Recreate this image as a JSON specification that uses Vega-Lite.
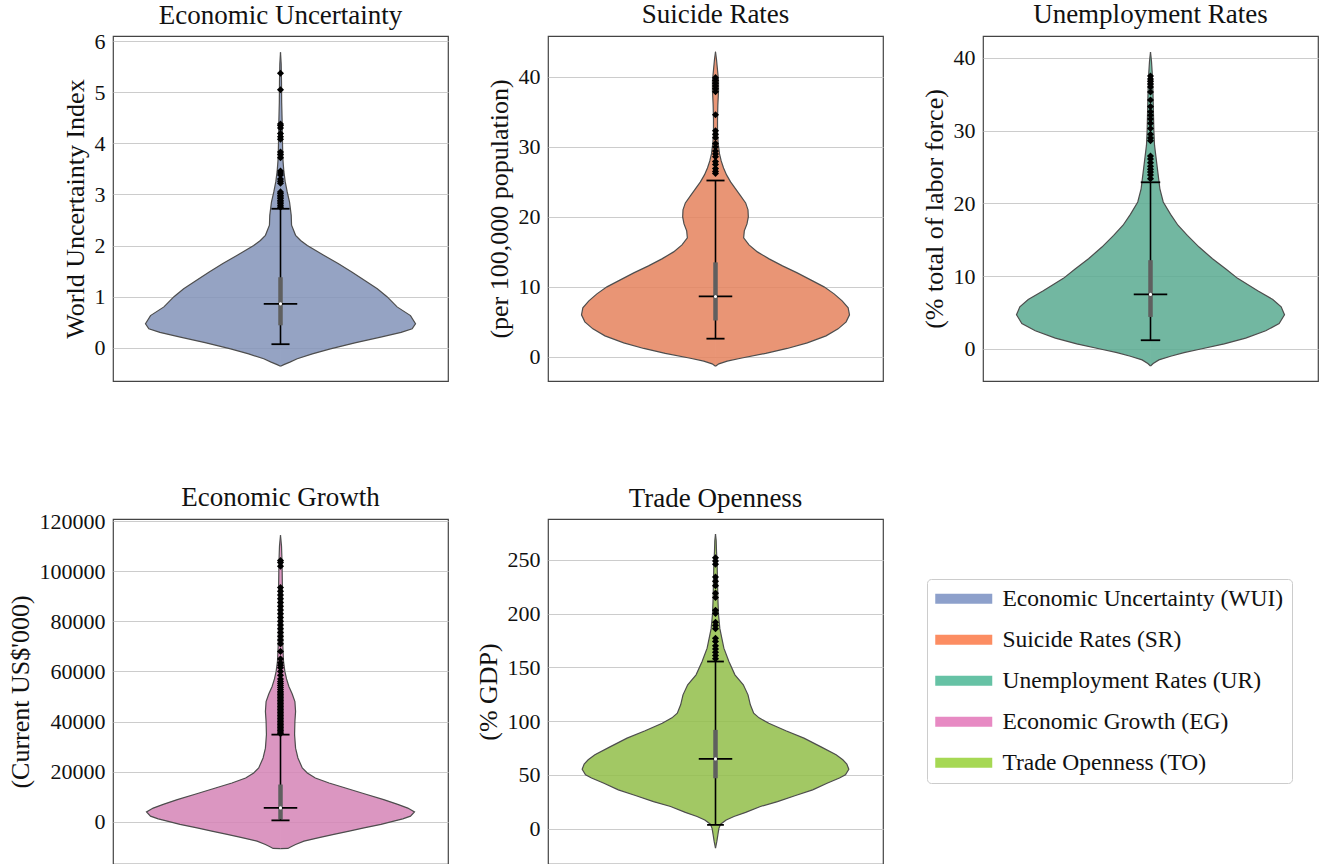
{
"$schema": "https://vega.github.io/schema/vega-lite/v6.json",
"padding": {"left": 6, "top": 0, "right": 0, "bottom": 0},
"background": "white",
"config": {
  "font": "Liberation Serif",
  "view": {"stroke": "#444444", "strokeWidth": 1.2},
  "axisY": {"grid": true, "gridColor": "#cccccc", "gridWidth": 1, "domain": false, "ticks": false, "labelFontSize": 22, "labelColor": "#111111", "labelPadding": 8, "titleFontSize": 26, "titleFontWeight": "normal", "titleColor": "#111111", "titlePadding": 6},
  "title": {"fontSize": 27, "fontWeight": "normal", "color": "#111111", "frame": "group", "baseline": "alphabetic"}
},
"datasets": {
  "v1": [{"value":-0.36,"density":0},{"value":-0.33,"density":0.01},{"value":-0.28,"density":0.028},{"value":-0.215,"density":0.05},{"value":-0.12,"density":0.095},{"value":-0.02,"density":0.149},{"value":0.1,"density":0.225},{"value":0.21,"density":0.299},{"value":0.3,"density":0.36},{"value":0.37,"density":0.393},{"value":0.47,"density":0.403},{"value":0.63,"density":0.388},{"value":0.8,"density":0.348},{"value":1.0,"density":0.318},{"value":1.155,"density":0.289},{"value":1.3,"density":0.255},{"value":1.48,"density":0.214},{"value":1.65,"density":0.172},{"value":1.81,"density":0.129},{"value":2.0,"density":0.08},{"value":2.1,"density":0.06},{"value":2.2,"density":0.045},{"value":2.4,"density":0.033},{"value":2.59,"density":0.032},{"value":2.85,"density":0.027},{"value":3.05,"density":0.02},{"value":3.25,"density":0.014},{"value":3.45,"density":0.01},{"value":3.7,"density":0.007},{"value":4.0,"density":0.006},{"value":4.4,"density":0.005},{"value":4.8,"density":0.0035},{"value":5.2,"density":0.003},{"value":5.55,"density":0.002},{"value":5.78,"density":0}],
  "v2": [{"value":-1.33,"density":0},{"value":-1.0,"density":0.01},{"value":-0.6,"density":0.035},{"value":-0.2,"density":0.075},{"value":0.5,"density":0.15},{"value":1.2,"density":0.214},{"value":2.0,"density":0.274},{"value":3.0,"density":0.33},{"value":4.0,"density":0.366},{"value":5.0,"density":0.39},{"value":6.0,"density":0.4},{"value":7.0,"density":0.396},{"value":8.0,"density":0.378},{"value":9.0,"density":0.354},{"value":10.0,"density":0.324},{"value":11.0,"density":0.284},{"value":12.0,"density":0.244},{"value":13.0,"density":0.2},{"value":14.0,"density":0.16},{"value":15.0,"density":0.125},{"value":16.0,"density":0.1},{"value":17.0,"density":0.084},{"value":18.0,"density":0.086},{"value":19.0,"density":0.094},{"value":20.0,"density":0.098},{"value":21.0,"density":0.097},{"value":22.0,"density":0.09},{"value":23.0,"density":0.075},{"value":24.0,"density":0.06},{"value":25.0,"density":0.045},{"value":26.0,"density":0.033},{"value":27.0,"density":0.024},{"value":28.0,"density":0.017},{"value":29.0,"density":0.012},{"value":30.5,"density":0.008},{"value":32.0,"density":0.006},{"value":34.0,"density":0.006},{"value":36.0,"density":0.007},{"value":38.0,"density":0.009},{"value":39.5,"density":0.009},{"value":41.0,"density":0.006},{"value":42.5,"density":0.003},{"value":43.6,"density":0}],
  "v3": [{"value":-2.34,"density":0},{"value":-2.0,"density":0.008},{"value":-1.5,"density":0.025},{"value":-1.0,"density":0.06},{"value":-0.5,"density":0.1},{"value":0.0,"density":0.15},{"value":0.7,"density":0.22},{"value":1.5,"density":0.284},{"value":2.5,"density":0.344},{"value":3.5,"density":0.384},{"value":4.7,"density":0.4},{"value":5.8,"density":0.39},{"value":6.8,"density":0.365},{"value":8.0,"density":0.32},{"value":9.7,"density":0.26},{"value":11.0,"density":0.225},{"value":12.4,"density":0.185},{"value":14.0,"density":0.145},{"value":15.6,"density":0.11},{"value":17.0,"density":0.082},{"value":18.5,"density":0.06},{"value":20.2,"density":0.038},{"value":22.0,"density":0.028},{"value":23.5,"density":0.024},{"value":25.0,"density":0.02},{"value":26.5,"density":0.016},{"value":28.0,"density":0.012},{"value":30.0,"density":0.01},{"value":32.0,"density":0.009},{"value":34.0,"density":0.008},{"value":36.0,"density":0.007},{"value":38.0,"density":0.005},{"value":39.5,"density":0.003},{"value":40.8,"density":0}],
  "v4": [{"value":-10700,"density":0},{"value":-10600,"density":0.022},{"value":-10000,"density":0.03},{"value":-9000,"density":0.045},{"value":-7700,"density":0.07},{"value":-6300,"density":0.115},{"value":-5000,"density":0.159},{"value":-3700,"density":0.205},{"value":-2400,"density":0.249},{"value":-1000,"density":0.3},{"value":280,"density":0.338},{"value":1200,"density":0.365},{"value":2270,"density":0.388},{"value":3980,"density":0.4},{"value":5500,"density":0.38},{"value":7000,"density":0.35},{"value":8900,"density":0.308},{"value":11200,"density":0.25},{"value":13500,"density":0.194},{"value":15500,"density":0.145},{"value":17500,"density":0.104},{"value":19500,"density":0.08},{"value":21500,"density":0.065},{"value":25500,"density":0.052},{"value":29400,"density":0.045},{"value":34800,"density":0.042},{"value":40000,"density":0.043},{"value":44000,"density":0.045},{"value":48000,"density":0.043},{"value":51000,"density":0.035},{"value":54000,"density":0.025},{"value":57000,"density":0.018},{"value":60000,"density":0.013},{"value":64000,"density":0.009},{"value":70000,"density":0.007},{"value":80000,"density":0.006},{"value":90000,"density":0.006},{"value":100000,"density":0.005},{"value":106000,"density":0.004},{"value":110000,"density":0.003},{"value":114300,"density":0}],
  "v5": [{"value":-18.3,"density":0},{"value":-12,"density":0.004},{"value":-6,"density":0.007},{"value":0,"density":0.01},{"value":4,"density":0.015},{"value":8,"density":0.032},{"value":11.2,"density":0.055},{"value":15,"density":0.09},{"value":20.5,"density":0.134},{"value":25,"density":0.185},{"value":30.7,"density":0.239},{"value":36,"density":0.29},{"value":42.2,"density":0.333},{"value":47,"density":0.37},{"value":50,"density":0.388},{"value":55.2,"density":0.398},{"value":60,"density":0.392},{"value":64,"density":0.38},{"value":68.6,"density":0.36},{"value":76,"density":0.315},{"value":84.1,"density":0.264},{"value":91,"density":0.21},{"value":98,"density":0.159},{"value":103,"density":0.13},{"value":107.3,"density":0.114},{"value":115.1,"density":0.104},{"value":124.4,"density":0.097},{"value":133.7,"density":0.083},{"value":143,"density":0.058},{"value":155.4,"density":0.04},{"value":167.8,"density":0.025},{"value":177,"density":0.019},{"value":186,"density":0.013},{"value":199,"density":0.009},{"value":215,"density":0.007},{"value":230,"density":0.006},{"value":245,"density":0.005},{"value":258,"density":0.003},{"value":268,"density":0.002},{"value":274,"density":0}],
  "s1": [{"lo":0.07,"q1":0.44,"med":0.86,"q3":1.38,"hi":2.72}],
  "s2": [{"lo":2.6,"q1":5.2,"med":8.63,"q3":13.5,"hi":25.2}],
  "s3": [{"lo":1.2,"q1":4.4,"med":7.5,"q3":12.2,"hi":22.9}],
  "s4": [{"lo":600,"q1":1000,"med":5570,"q3":14900,"hi":34800}],
  "s5": [{"lo":3.4,"q1":46.8,"med":64.8,"q3":91.8,"hi":155.4}],
  "o1": [{"value":2.75},{"value":2.78},{"value":2.82},{"value":2.85},{"value":2.88},{"value":2.92},{"value":2.95},{"value":2.98},{"value":3.02},{"value":3.05},{"value":3.22},{"value":3.26},{"value":3.3},{"value":3.38},{"value":3.42},{"value":3.46},{"value":3.72},{"value":3.78},{"value":3.83},{"value":4.08},{"value":4.13},{"value":4.19},{"value":4.3},{"value":4.35},{"value":4.38},{"value":5.05},{"value":5.37}],
  "o2": [{"value":26.2},{"value":26.5},{"value":26.9},{"value":27.5},{"value":27.9},{"value":28.6},{"value":29.0},{"value":29.4},{"value":30.0},{"value":30.5},{"value":31.3},{"value":31.8},{"value":32.3},{"value":34.6},{"value":37.9},{"value":38.3},{"value":38.7},{"value":39.1},{"value":39.5},{"value":39.9}],
  "o3": [{"value":23.4},{"value":23.9},{"value":24.3},{"value":24.7},{"value":25.1},{"value":25.6},{"value":26.1},{"value":26.5},{"value":28.6},{"value":29.0},{"value":29.5},{"value":30.3},{"value":31.0},{"value":31.6},{"value":32.1},{"value":32.6},{"value":33.3},{"value":34.2},{"value":35.3},{"value":36.0},{"value":36.4},{"value":36.8},{"value":37.1},{"value":37.5}],
  "o4": [{"value":35200},{"value":35800},{"value":36400},{"value":37000},{"value":37600},{"value":38200},{"value":38800},{"value":39400},{"value":40000},{"value":40600},{"value":41200},{"value":41800},{"value":42400},{"value":43000},{"value":43600},{"value":44200},{"value":44800},{"value":45400},{"value":46000},{"value":46600},{"value":47200},{"value":47800},{"value":48400},{"value":49000},{"value":49600},{"value":50200},{"value":50800},{"value":51400},{"value":52000},{"value":52800},{"value":53600},{"value":54400},{"value":55200},{"value":56000},{"value":57000},{"value":58500},{"value":60000},{"value":61500},{"value":62500},{"value":63500},{"value":65000},{"value":68000},{"value":71000},{"value":72500},{"value":74000},{"value":75500},{"value":77000},{"value":78500},{"value":80000},{"value":81500},{"value":83000},{"value":84500},{"value":86000},{"value":87500},{"value":89000},{"value":90500},{"value":92000},{"value":93500},{"value":102000},{"value":103500},{"value":104200}],
  "o5": [{"value":158},{"value":161},{"value":164},{"value":167},{"value":170},{"value":174},{"value":177},{"value":186},{"value":189},{"value":192},{"value":200},{"value":203},{"value":215},{"value":219},{"value":226},{"value":230},{"value":234},{"value":246},{"value":249},{"value":252}],
  "leg": [{"name":"Economic Uncertainty (WUI)"},{"name":"Suicide Rates (SR)"},{"name":"Unemployment Rates (UR)"},{"name":"Economic Growth (EG)"},{"name":"Trade Openness (TO)"}]
},
"columns": 3,
"spacing": {"row": 138, "column": 100},
"bounds": "flush",
"resolve": {"scale": {"color": "independent"}, "legend": {"color": "independent"}},
"concat": [
{
 "title": {"text": "Economic Uncertainty", "offset": 0},
 "width": 335, "height": 345,
 "resolve": {"scale": {"x": "independent"}},
 "layer": [
  {"data": {"name": "v1"}, "mark": {"type": "area", "orient": "horizontal", "color": "#8293b8", "fillOpacity": 0.85},
   "encoding": {"y": {"field": "value", "type": "quantitative", "title": "World Uncertainty Index", "scale": {"domain": [-0.65, 6.1], "nice": false, "zero": false}, "axis": {"values": [0,1,2,3,4,5,6]}},
     "x": {"field": "density", "type": "quantitative", "scale": {"domain": [-0.5, 0.5], "reverse": true}, "axis": null}, "x2": {"datum": -0.001}}},
  {"data": {"name": "v1"}, "mark": {"type": "area", "orient": "horizontal", "color": "#8293b8", "fillOpacity": 0.85},
   "encoding": {"y": {"field": "value", "type": "quantitative", "title": "World Uncertainty Index"},
     "x": {"field": "density", "type": "quantitative", "scale": {"domain": [-0.5, 0.5]}, "axis": null}, "x2": {"datum": 0}}},
  {"data": {"name": "v1"}, "mark": {"type": "line", "color": "#4d4d4d", "strokeWidth": 1.2},
   "encoding": {"y": {"field": "value", "type": "quantitative", "title": "World Uncertainty Index"},
     "x": {"field": "density", "type": "quantitative", "scale": {"domain": [-0.5, 0.5], "reverse": true}, "axis": null}, "order": {"field": "value", "type": "quantitative"}}},
  {"data": {"name": "v1"}, "mark": {"type": "line", "color": "#4d4d4d", "strokeWidth": 1.2},
   "encoding": {"y": {"field": "value", "type": "quantitative", "title": "World Uncertainty Index"},
     "x": {"field": "density", "type": "quantitative", "scale": {"domain": [-0.5, 0.5]}, "axis": null}, "order": {"field": "value", "type": "quantitative"}}},
  {"data": {"name": "s1"}, "mark": {"type": "rule", "color": "black", "strokeWidth": 1.6},
   "encoding": {"y": {"field": "lo", "type": "quantitative", "title": "World Uncertainty Index"}, "y2": {"field": "hi"}, "x": {"datum": 0, "type": "quantitative", "scale": {"domain": [-0.5, 0.5]}, "axis": null}}},
  {"data": {"name": "s1"}, "mark": {"type": "rule", "color": "#5f5f5f", "strokeWidth": 4.5},
   "encoding": {"y": {"field": "q1", "type": "quantitative", "title": "World Uncertainty Index"}, "y2": {"field": "q3"}, "x": {"datum": 0, "type": "quantitative", "scale": {"domain": [-0.5, 0.5]}, "axis": null}}},
  {"data": {"name": "s1"}, "mark": {"type": "rule", "color": "black", "strokeWidth": 1.8},
   "encoding": {"y": {"field": "lo", "type": "quantitative", "title": "World Uncertainty Index"}, "x": {"datum": -0.027, "type": "quantitative", "scale": {"domain": [-0.5, 0.5]}, "axis": null}, "x2": {"datum": 0.027}}},
  {"data": {"name": "s1"}, "mark": {"type": "rule", "color": "black", "strokeWidth": 1.8},
   "encoding": {"y": {"field": "hi", "type": "quantitative", "title": "World Uncertainty Index"}, "x": {"datum": -0.027, "type": "quantitative", "scale": {"domain": [-0.5, 0.5]}, "axis": null}, "x2": {"datum": 0.027}}},
  {"data": {"name": "s1"}, "mark": {"type": "rule", "color": "black", "strokeWidth": 1.8},
   "encoding": {"y": {"field": "med", "type": "quantitative", "title": "World Uncertainty Index"}, "x": {"datum": -0.05, "type": "quantitative", "scale": {"domain": [-0.5, 0.5]}, "axis": null}, "x2": {"datum": 0.05}}},
  {"data": {"name": "s1"}, "mark": {"type": "point", "filled": true, "color": "white", "size": 10, "opacity": 1},
   "encoding": {"y": {"field": "med", "type": "quantitative", "title": "World Uncertainty Index"}, "x": {"datum": 0, "type": "quantitative", "scale": {"domain": [-0.5, 0.5]}, "axis": null}}},
  {"data": {"name": "o1"}, "mark": {"type": "point", "shape": "diamond", "filled": true, "color": "black", "size": 50, "opacity": 1},
   "encoding": {"y": {"field": "value", "type": "quantitative", "title": "World Uncertainty Index"}, "x": {"datum": 0, "type": "quantitative", "scale": {"domain": [-0.5, 0.5]}, "axis": null}}}
 ]
},
{
 "title": {"text": "Suicide Rates", "offset": 7},
 "width": 335, "height": 345,
 "resolve": {"scale": {"x": "independent"}},
 "layer": [
  {"data": {"name": "v2"}, "mark": {"type": "area", "orient": "horizontal", "color": "#e5825d", "fillOpacity": 0.85},
   "encoding": {"y": {"field": "value", "type": "quantitative", "title": "(per 100,000 population)", "scale": {"domain": [-3.45, 45.85], "nice": false, "zero": false}, "axis": {"values": [0,10,20,30,40]}},
     "x": {"field": "density", "type": "quantitative", "scale": {"domain": [-0.5, 0.5], "reverse": true}, "axis": null}, "x2": {"datum": -0.001}}},
  {"data": {"name": "v2"}, "mark": {"type": "area", "orient": "horizontal", "color": "#e5825d", "fillOpacity": 0.85},
   "encoding": {"y": {"field": "value", "type": "quantitative", "title": "(per 100,000 population)"},
     "x": {"field": "density", "type": "quantitative", "scale": {"domain": [-0.5, 0.5]}, "axis": null}, "x2": {"datum": 0}}},
  {"data": {"name": "v2"}, "mark": {"type": "line", "color": "#4d4d4d", "strokeWidth": 1.2},
   "encoding": {"y": {"field": "value", "type": "quantitative", "title": "(per 100,000 population)"},
     "x": {"field": "density", "type": "quantitative", "scale": {"domain": [-0.5, 0.5], "reverse": true}, "axis": null}, "order": {"field": "value", "type": "quantitative"}}},
  {"data": {"name": "v2"}, "mark": {"type": "line", "color": "#4d4d4d", "strokeWidth": 1.2},
   "encoding": {"y": {"field": "value", "type": "quantitative", "title": "(per 100,000 population)"},
     "x": {"field": "density", "type": "quantitative", "scale": {"domain": [-0.5, 0.5]}, "axis": null}, "order": {"field": "value", "type": "quantitative"}}},
  {"data": {"name": "s2"}, "mark": {"type": "rule", "color": "black", "strokeWidth": 1.6},
   "encoding": {"y": {"field": "lo", "type": "quantitative", "title": "(per 100,000 population)"}, "y2": {"field": "hi"}, "x": {"datum": 0, "type": "quantitative", "scale": {"domain": [-0.5, 0.5]}, "axis": null}}},
  {"data": {"name": "s2"}, "mark": {"type": "rule", "color": "#5f5f5f", "strokeWidth": 4.5},
   "encoding": {"y": {"field": "q1", "type": "quantitative", "title": "(per 100,000 population)"}, "y2": {"field": "q3"}, "x": {"datum": 0, "type": "quantitative", "scale": {"domain": [-0.5, 0.5]}, "axis": null}}},
  {"data": {"name": "s2"}, "mark": {"type": "rule", "color": "black", "strokeWidth": 1.8},
   "encoding": {"y": {"field": "lo", "type": "quantitative", "title": "(per 100,000 population)"}, "x": {"datum": -0.027, "type": "quantitative", "scale": {"domain": [-0.5, 0.5]}, "axis": null}, "x2": {"datum": 0.027}}},
  {"data": {"name": "s2"}, "mark": {"type": "rule", "color": "black", "strokeWidth": 1.8},
   "encoding": {"y": {"field": "hi", "type": "quantitative", "title": "(per 100,000 population)"}, "x": {"datum": -0.027, "type": "quantitative", "scale": {"domain": [-0.5, 0.5]}, "axis": null}, "x2": {"datum": 0.027}}},
  {"data": {"name": "s2"}, "mark": {"type": "rule", "color": "black", "strokeWidth": 1.8},
   "encoding": {"y": {"field": "med", "type": "quantitative", "title": "(per 100,000 population)"}, "x": {"datum": -0.05, "type": "quantitative", "scale": {"domain": [-0.5, 0.5]}, "axis": null}, "x2": {"datum": 0.05}}},
  {"data": {"name": "s2"}, "mark": {"type": "point", "filled": true, "color": "white", "size": 10, "opacity": 1},
   "encoding": {"y": {"field": "med", "type": "quantitative", "title": "(per 100,000 population)"}, "x": {"datum": 0, "type": "quantitative", "scale": {"domain": [-0.5, 0.5]}, "axis": null}}},
  {"data": {"name": "o2"}, "mark": {"type": "point", "shape": "diamond", "filled": true, "color": "black", "size": 50, "opacity": 1},
   "encoding": {"y": {"field": "value", "type": "quantitative", "title": "(per 100,000 population)"}, "x": {"datum": 0, "type": "quantitative", "scale": {"domain": [-0.5, 0.5]}, "axis": null}}}
 ]
},
{
 "title": {"text": "Unemployment Rates", "offset": 7},
 "width": 335, "height": 345,
 "resolve": {"scale": {"x": "independent"}},
 "layer": [
  {"data": {"name": "v3"}, "mark": {"type": "area", "orient": "horizontal", "color": "#59aa90", "fillOpacity": 0.85},
   "encoding": {"y": {"field": "value", "type": "quantitative", "title": "(% total of labor force)", "scale": {"domain": [-4.4, 43.0], "nice": false, "zero": false}, "axis": {"values": [0,10,20,30,40]}},
     "x": {"field": "density", "type": "quantitative", "scale": {"domain": [-0.5, 0.5], "reverse": true}, "axis": null}, "x2": {"datum": -0.001}}},
  {"data": {"name": "v3"}, "mark": {"type": "area", "orient": "horizontal", "color": "#59aa90", "fillOpacity": 0.85},
   "encoding": {"y": {"field": "value", "type": "quantitative", "title": "(% total of labor force)"},
     "x": {"field": "density", "type": "quantitative", "scale": {"domain": [-0.5, 0.5]}, "axis": null}, "x2": {"datum": 0}}},
  {"data": {"name": "v3"}, "mark": {"type": "line", "color": "#4d4d4d", "strokeWidth": 1.2},
   "encoding": {"y": {"field": "value", "type": "quantitative", "title": "(% total of labor force)"},
     "x": {"field": "density", "type": "quantitative", "scale": {"domain": [-0.5, 0.5], "reverse": true}, "axis": null}, "order": {"field": "value", "type": "quantitative"}}},
  {"data": {"name": "v3"}, "mark": {"type": "line", "color": "#4d4d4d", "strokeWidth": 1.2},
   "encoding": {"y": {"field": "value", "type": "quantitative", "title": "(% total of labor force)"},
     "x": {"field": "density", "type": "quantitative", "scale": {"domain": [-0.5, 0.5]}, "axis": null}, "order": {"field": "value", "type": "quantitative"}}},
  {"data": {"name": "s3"}, "mark": {"type": "rule", "color": "black", "strokeWidth": 1.6},
   "encoding": {"y": {"field": "lo", "type": "quantitative", "title": "(% total of labor force)"}, "y2": {"field": "hi"}, "x": {"datum": 0, "type": "quantitative", "scale": {"domain": [-0.5, 0.5]}, "axis": null}}},
  {"data": {"name": "s3"}, "mark": {"type": "rule", "color": "#5f5f5f", "strokeWidth": 4.5},
   "encoding": {"y": {"field": "q1", "type": "quantitative", "title": "(% total of labor force)"}, "y2": {"field": "q3"}, "x": {"datum": 0, "type": "quantitative", "scale": {"domain": [-0.5, 0.5]}, "axis": null}}},
  {"data": {"name": "s3"}, "mark": {"type": "rule", "color": "black", "strokeWidth": 1.8},
   "encoding": {"y": {"field": "lo", "type": "quantitative", "title": "(% total of labor force)"}, "x": {"datum": -0.029, "type": "quantitative", "scale": {"domain": [-0.5, 0.5]}, "axis": null}, "x2": {"datum": 0.029}}},
  {"data": {"name": "s3"}, "mark": {"type": "rule", "color": "black", "strokeWidth": 1.8},
   "encoding": {"y": {"field": "hi", "type": "quantitative", "title": "(% total of labor force)"}, "x": {"datum": -0.029, "type": "quantitative", "scale": {"domain": [-0.5, 0.5]}, "axis": null}, "x2": {"datum": 0.029}}},
  {"data": {"name": "s3"}, "mark": {"type": "rule", "color": "black", "strokeWidth": 1.8},
   "encoding": {"y": {"field": "med", "type": "quantitative", "title": "(% total of labor force)"}, "x": {"datum": -0.05, "type": "quantitative", "scale": {"domain": [-0.5, 0.5]}, "axis": null}, "x2": {"datum": 0.05}}},
  {"data": {"name": "s3"}, "mark": {"type": "point", "filled": true, "color": "white", "size": 10, "opacity": 1},
   "encoding": {"y": {"field": "med", "type": "quantitative", "title": "(% total of labor force)"}, "x": {"datum": 0, "type": "quantitative", "scale": {"domain": [-0.5, 0.5]}, "axis": null}}},
  {"data": {"name": "o3"}, "mark": {"type": "point", "shape": "diamond", "filled": true, "color": "black", "size": 50, "opacity": 1},
   "encoding": {"y": {"field": "value", "type": "quantitative", "title": "(% total of labor force)"}, "x": {"datum": 0, "type": "quantitative", "scale": {"domain": [-0.5, 0.5]}, "axis": null}}}
 ]
},
{
 "title": {"text": "Economic Growth", "offset": -2},
 "width": 335, "height": 345,
 "resolve": {"scale": {"x": "independent"}},
 "layer": [
  {"data": {"name": "v4"}, "mark": {"type": "area", "orient": "horizontal", "color": "#d584b6", "fillOpacity": 0.85},
   "encoding": {"y": {"field": "value", "type": "quantitative", "title": "(Current US$'000)", "scale": {"domain": [-16800, 120800], "nice": false, "zero": false}, "axis": {"values": [0,20000,40000,60000,80000,100000,120000], "format": "d"}},
     "x": {"field": "density", "type": "quantitative", "scale": {"domain": [-0.5, 0.5], "reverse": true}, "axis": null}, "x2": {"datum": -0.001}}},
  {"data": {"name": "v4"}, "mark": {"type": "area", "orient": "horizontal", "color": "#d584b6", "fillOpacity": 0.85},
   "encoding": {"y": {"field": "value", "type": "quantitative", "title": "(Current US$'000)"},
     "x": {"field": "density", "type": "quantitative", "scale": {"domain": [-0.5, 0.5]}, "axis": null}, "x2": {"datum": 0}}},
  {"data": {"name": "v4"}, "mark": {"type": "line", "color": "#4d4d4d", "strokeWidth": 1.2},
   "encoding": {"y": {"field": "value", "type": "quantitative", "title": "(Current US$'000)"},
     "x": {"field": "density", "type": "quantitative", "scale": {"domain": [-0.5, 0.5], "reverse": true}, "axis": null}, "order": {"field": "value", "type": "quantitative"}}},
  {"data": {"name": "v4"}, "mark": {"type": "line", "color": "#4d4d4d", "strokeWidth": 1.2},
   "encoding": {"y": {"field": "value", "type": "quantitative", "title": "(Current US$'000)"},
     "x": {"field": "density", "type": "quantitative", "scale": {"domain": [-0.5, 0.5]}, "axis": null}, "order": {"field": "value", "type": "quantitative"}}},
  {"data": {"name": "s4"}, "mark": {"type": "rule", "color": "black", "strokeWidth": 1.6},
   "encoding": {"y": {"field": "lo", "type": "quantitative", "title": "(Current US$'000)"}, "y2": {"field": "hi"}, "x": {"datum": 0, "type": "quantitative", "scale": {"domain": [-0.5, 0.5]}, "axis": null}}},
  {"data": {"name": "s4"}, "mark": {"type": "rule", "color": "#5f5f5f", "strokeWidth": 4.5},
   "encoding": {"y": {"field": "q1", "type": "quantitative", "title": "(Current US$'000)"}, "y2": {"field": "q3"}, "x": {"datum": 0, "type": "quantitative", "scale": {"domain": [-0.5, 0.5]}, "axis": null}}},
  {"data": {"name": "s4"}, "mark": {"type": "rule", "color": "black", "strokeWidth": 1.8},
   "encoding": {"y": {"field": "lo", "type": "quantitative", "title": "(Current US$'000)"}, "x": {"datum": -0.027, "type": "quantitative", "scale": {"domain": [-0.5, 0.5]}, "axis": null}, "x2": {"datum": 0.027}}},
  {"data": {"name": "s4"}, "mark": {"type": "rule", "color": "black", "strokeWidth": 1.8},
   "encoding": {"y": {"field": "hi", "type": "quantitative", "title": "(Current US$'000)"}, "x": {"datum": -0.027, "type": "quantitative", "scale": {"domain": [-0.5, 0.5]}, "axis": null}, "x2": {"datum": 0.027}}},
  {"data": {"name": "s4"}, "mark": {"type": "rule", "color": "black", "strokeWidth": 1.8},
   "encoding": {"y": {"field": "med", "type": "quantitative", "title": "(Current US$'000)"}, "x": {"datum": -0.05, "type": "quantitative", "scale": {"domain": [-0.5, 0.5]}, "axis": null}, "x2": {"datum": 0.05}}},
  {"data": {"name": "s4"}, "mark": {"type": "point", "filled": true, "color": "white", "size": 10, "opacity": 1},
   "encoding": {"y": {"field": "med", "type": "quantitative", "title": "(Current US$'000)"}, "x": {"datum": 0, "type": "quantitative", "scale": {"domain": [-0.5, 0.5]}, "axis": null}}},
  {"data": {"name": "o4"}, "mark": {"type": "point", "shape": "diamond", "filled": true, "color": "black", "size": 50, "opacity": 1},
   "encoding": {"y": {"field": "value", "type": "quantitative", "title": "(Current US$'000)"}, "x": {"datum": 0, "type": "quantitative", "scale": {"domain": [-0.5, 0.5]}, "axis": null}}}
 ]
},
{
 "title": {"text": "Trade Openness", "offset": 6},
 "width": 335, "height": 345,
 "resolve": {"scale": {"x": "independent"}},
 "layer": [
  {"data": {"name": "v5"}, "mark": {"type": "area", "orient": "horizontal", "color": "#92be49", "fillOpacity": 0.85},
   "encoding": {"y": {"field": "value", "type": "quantitative", "title": "(% GDP)", "scale": {"domain": [-33, 288], "nice": false, "zero": false}, "axis": {"values": [0,50,100,150,200,250]}},
     "x": {"field": "density", "type": "quantitative", "scale": {"domain": [-0.5, 0.5], "reverse": true}, "axis": null}, "x2": {"datum": -0.001}}},
  {"data": {"name": "v5"}, "mark": {"type": "area", "orient": "horizontal", "color": "#92be49", "fillOpacity": 0.85},
   "encoding": {"y": {"field": "value", "type": "quantitative", "title": "(% GDP)"},
     "x": {"field": "density", "type": "quantitative", "scale": {"domain": [-0.5, 0.5]}, "axis": null}, "x2": {"datum": 0}}},
  {"data": {"name": "v5"}, "mark": {"type": "line", "color": "#4d4d4d", "strokeWidth": 1.2},
   "encoding": {"y": {"field": "value", "type": "quantitative", "title": "(% GDP)"},
     "x": {"field": "density", "type": "quantitative", "scale": {"domain": [-0.5, 0.5], "reverse": true}, "axis": null}, "order": {"field": "value", "type": "quantitative"}}},
  {"data": {"name": "v5"}, "mark": {"type": "line", "color": "#4d4d4d", "strokeWidth": 1.2},
   "encoding": {"y": {"field": "value", "type": "quantitative", "title": "(% GDP)"},
     "x": {"field": "density", "type": "quantitative", "scale": {"domain": [-0.5, 0.5]}, "axis": null}, "order": {"field": "value", "type": "quantitative"}}},
  {"data": {"name": "s5"}, "mark": {"type": "rule", "color": "black", "strokeWidth": 1.6},
   "encoding": {"y": {"field": "lo", "type": "quantitative", "title": "(% GDP)"}, "y2": {"field": "hi"}, "x": {"datum": 0, "type": "quantitative", "scale": {"domain": [-0.5, 0.5]}, "axis": null}}},
  {"data": {"name": "s5"}, "mark": {"type": "rule", "color": "#5f5f5f", "strokeWidth": 4.5},
   "encoding": {"y": {"field": "q1", "type": "quantitative", "title": "(% GDP)"}, "y2": {"field": "q3"}, "x": {"datum": 0, "type": "quantitative", "scale": {"domain": [-0.5, 0.5]}, "axis": null}}},
  {"data": {"name": "s5"}, "mark": {"type": "rule", "color": "black", "strokeWidth": 1.8},
   "encoding": {"y": {"field": "lo", "type": "quantitative", "title": "(% GDP)"}, "x": {"datum": -0.025, "type": "quantitative", "scale": {"domain": [-0.5, 0.5]}, "axis": null}, "x2": {"datum": 0.025}}},
  {"data": {"name": "s5"}, "mark": {"type": "rule", "color": "black", "strokeWidth": 1.8},
   "encoding": {"y": {"field": "hi", "type": "quantitative", "title": "(% GDP)"}, "x": {"datum": -0.025, "type": "quantitative", "scale": {"domain": [-0.5, 0.5]}, "axis": null}, "x2": {"datum": 0.025}}},
  {"data": {"name": "s5"}, "mark": {"type": "rule", "color": "black", "strokeWidth": 1.8},
   "encoding": {"y": {"field": "med", "type": "quantitative", "title": "(% GDP)"}, "x": {"datum": -0.05, "type": "quantitative", "scale": {"domain": [-0.5, 0.5]}, "axis": null}, "x2": {"datum": 0.05}}},
  {"data": {"name": "s5"}, "mark": {"type": "point", "filled": true, "color": "white", "size": 10, "opacity": 1},
   "encoding": {"y": {"field": "med", "type": "quantitative", "title": "(% GDP)"}, "x": {"datum": 0, "type": "quantitative", "scale": {"domain": [-0.5, 0.5]}, "axis": null}}},
  {"data": {"name": "o5"}, "mark": {"type": "point", "shape": "diamond", "filled": true, "color": "black", "size": 50, "opacity": 1},
   "encoding": {"y": {"field": "value", "type": "quantitative", "title": "(% GDP)"}, "x": {"datum": 0, "type": "quantitative", "scale": {"domain": [-0.5, 0.5]}, "axis": null}}}
 ]
},
{
 "width": 335, "height": 345,
 "view": {"stroke": null},
 "data": {"name": "leg"},
 "mark": {"type": "point", "filled": true, "opacity": 0},
 "encoding": {
   "color": {"field": "name", "type": "nominal",
     "scale": {"domain": ["Economic Uncertainty (WUI)", "Suicide Rates (SR)", "Unemployment Rates (UR)", "Economic Growth (EG)", "Trade Openness (TO)"], "range": ["#8da0cb", "#fc8d62", "#66c2a5", "#e78ac3", "#a6d854"]},
     "legend": {"orient": "none", "legendX": -56, "legendY": 60, "title": null, "labelFontSize": 23.5, "labelColor": "#111111", "labelLimit": 500,
       "symbolType": "M-2.3,-1L9.1,-1L9.1,1L-2.3,1Z", "symbolSize": 100, "symbolOpacity": 1, "symbolStrokeWidth": 0,
       "labelOffset": 44, "rowPadding": 16, "padding": 8, "strokeColor": "#cccccc", "cornerRadius": 4, "fillColor": "white"}}
 }
}
]
}
